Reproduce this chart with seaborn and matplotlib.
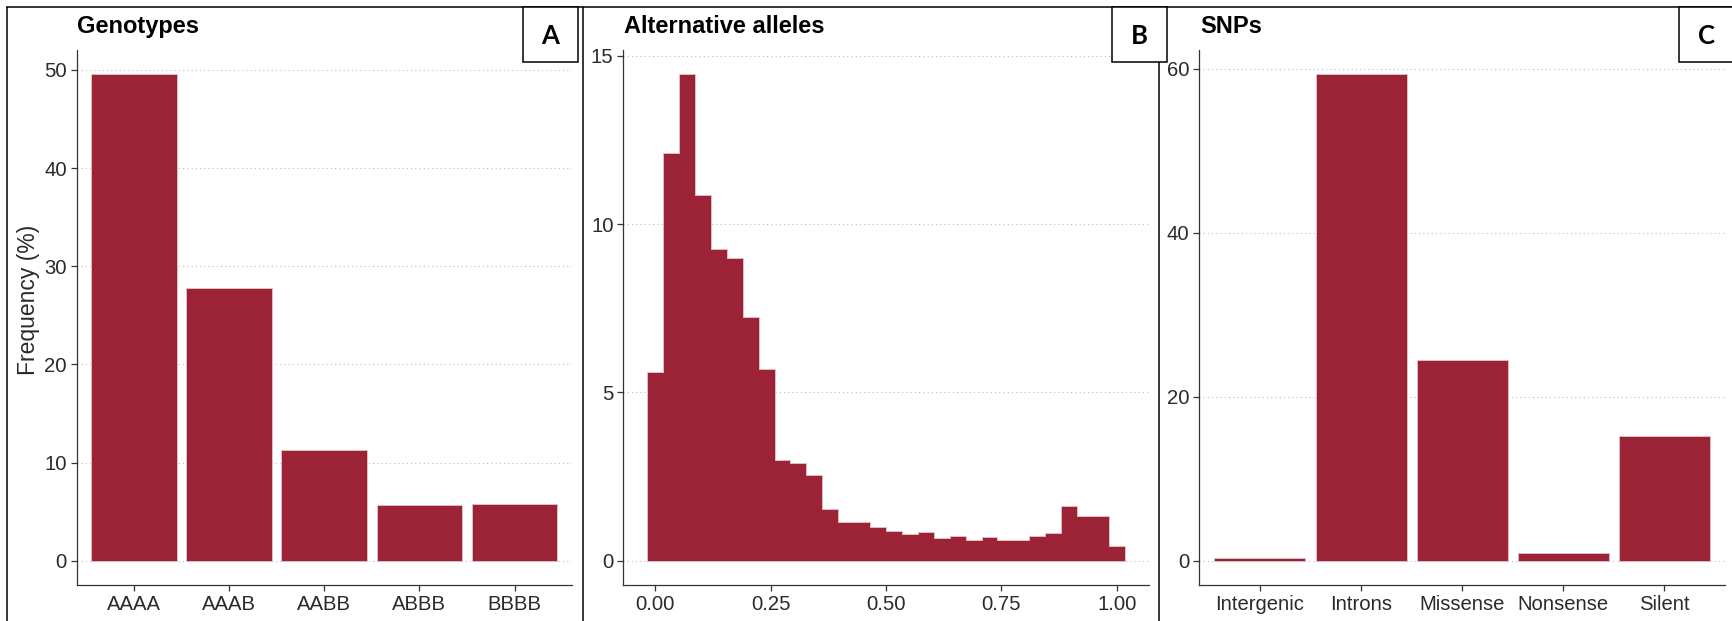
import numpy as np
import pandas as pd
import matplotlib
matplotlib.use("Agg")
import matplotlib.pyplot as plt
from matplotlib.patches import Rectangle
from matplotlib.lines import Line2D
import seaborn as sns

# ---- data (frequencies in %) ----
genotypes = ["AAAA", "AAAB", "AABB", "ABBB", "BBBB"]
genotype_freq = [49.55, 27.8, 11.3, 5.65, 5.8]

# alternative allele frequency histogram: 30 bins centred on 0 ... 1
allele_bin_centres = np.linspace(0.0, 1.0, 30)
allele_freq = [5.6, 12.1, 14.45, 10.85, 9.25, 9.0, 7.25, 5.7, 2.98, 2.9,
               2.54, 1.55, 1.14, 1.14, 0.99, 0.88, 0.79, 0.85, 0.66, 0.73,
               0.6, 0.7, 0.6, 0.6, 0.73, 0.81, 1.61, 1.33, 1.33, 0.44]
allele_ticks = [0.0, 0.25, 0.5, 0.75, 1.0]
allele_tick_labels = ["0.00", "0.25", "0.50", "0.75", "1.00"]

snp_classes = ["Intergenic", "Introns", "Missense", "Nonsense", "Silent"]
snp_freq = [0.33, 59.3, 24.5, 0.95, 15.2]

# ---- style ----
sns.set_theme(style="white")
plt.rcParams["font.family"] = ["Liberation Sans", "DejaVu Sans"]

BAR = "#9b2335"
EDGE = "#e9c3c9"
INK = "#2a2a2a"
W, H = 1732, 621

fig = plt.figure(figsize=(W / 100, H / 100), dpi=100)
fig.patch.set_facecolor("white")


def px_axes(x0, y0, x1, y1):
    """Axes placed by pixel box (top-left origin)."""
    return fig.add_axes([x0 / W, 1 - y1 / H, (x1 - x0) / W, (y1 - y0) / H])


def expand(lo, hi, mult=0.05):
    span = hi - lo
    return lo - mult * span, hi + mult * span


def style_axes(ax, yticks):
    ax.set_facecolor("white")
    for side in ("top", "right"):
        ax.spines[side].set_visible(False)
    for side in ("left", "bottom"):
        ax.spines[side].set_color("#333333")
        ax.spines[side].set_linewidth(0.9)
    ax.set_yticks(yticks)
    ax.yaxis.grid(True, linestyle=(0, (1, 2.8)), color="#bdbdbd", linewidth=0.8)
    ax.xaxis.grid(False)
    ax.set_axisbelow(True)
    ax.tick_params(axis="both", which="major", length=4, width=0.9, color="#333333",
                   labelsize=14.6, labelcolor=INK, pad=3, left=True, bottom=True)
    ax.set_xlabel("")
    ax.set_ylabel("")


# ---- panel A: genotypes ----
axA = px_axes(76.7, 50, 571.7, 585)
dfA = pd.DataFrame({"genotype": genotypes, "freq": genotype_freq})
sns.barplot(data=dfA, x="genotype", y="freq", order=genotypes, color=BAR,
            saturation=1, width=0.9, edgecolor=EDGE, linewidth=0.6, ax=axA)
axA.set_xlim(-0.6, len(genotypes) - 0.4)
axA.set_ylim(*expand(0, max(genotype_freq)))
style_axes(axA, [0, 10, 20, 30, 40, 50])

# ---- panel B: alternative alleles ----
axB = px_axes(623.3, 50, 1148.7, 585)
half = (allele_bin_centres[1] - allele_bin_centres[0]) / 2
lo_edge, hi_edge = allele_bin_centres[0] - half, allele_bin_centres[-1] + half
dfB = pd.DataFrame({"alt": allele_bin_centres, "freq": allele_freq})
sns.histplot(data=dfB, x="alt", weights="freq", bins=len(allele_freq),
             binrange=(lo_edge, hi_edge), color=BAR, alpha=1, element="step",
             edgecolor=EDGE, linewidth=0.6, ax=axB)
axB.set_xlim(*expand(lo_edge, hi_edge))
axB.set_ylim(*expand(0, max(allele_freq)))
axB.set_xticks(allele_ticks)
axB.set_xticklabels(allele_tick_labels)
style_axes(axB, [0, 5, 10, 15])

# ---- panel C: SNP classes ----
axC = px_axes(1199.3, 50, 1725, 585)
dfC = pd.DataFrame({"cls": snp_classes, "freq": snp_freq})
sns.barplot(data=dfC, x="cls", y="freq", order=snp_classes, color=BAR,
            saturation=1, width=0.9, edgecolor=EDGE, linewidth=0.6, ax=axC)
axC.set_xlim(-0.6, len(snp_classes) - 0.4)
axC.set_ylim(*expand(0, max(snp_freq)))
style_axes(axC, [0, 20, 40, 60])

# ---- titles and axis label ----
for x, title in [(77, "Genotypes"), (624, "Alternative alleles"), (1200, "SNPs")]:
    fig.text(x / W, 1 - 33 / H, title, fontsize=17, fontweight="bold",
             color="black", ha="left", va="baseline")
fig.text(28.5 / W, 1 - 300 / H, "Frequency (%)", rotation=90, fontsize=16.5,
         color=INK, ha="center", va="center")

# ---- panel frames ----
frame_kw = dict(color="black", linewidth=1.1, transform=fig.transFigure)
fig.add_artist(Line2D([7.3 / W, 1.0], [1 - 6.7 / H] * 2, **frame_kw))
for xv in (7.3, 582.7, 1159.0):
    fig.add_artist(Line2D([xv / W] * 2, [1 - 6.7 / H, 0.0], **frame_kw))

# ---- panel letters ----
for x0, x1, letter in [(522.7, 577.7, "A"), (1112.3, 1167.3, "B"), (1678.7, 1740, "C")]:
    fig.add_artist(Rectangle((x0 / W, 1 - 62 / H), (x1 - x0) / W, (62 - 6.7) / H,
                             transform=fig.transFigure, facecolor="white",
                             edgecolor="black", linewidth=1.1, zorder=5))
    cx = (x0 + min(x1, 1733.7)) / 2
    fig.text(cx / W, 1 - 35.5 / H, letter, fontsize=18.5, fontweight="bold",
             family=["Lato", "DejaVu Sans"], ha="center", va="center",
             color="black", zorder=6)

fig.savefig("out.png", dpi=100, facecolor="white")
